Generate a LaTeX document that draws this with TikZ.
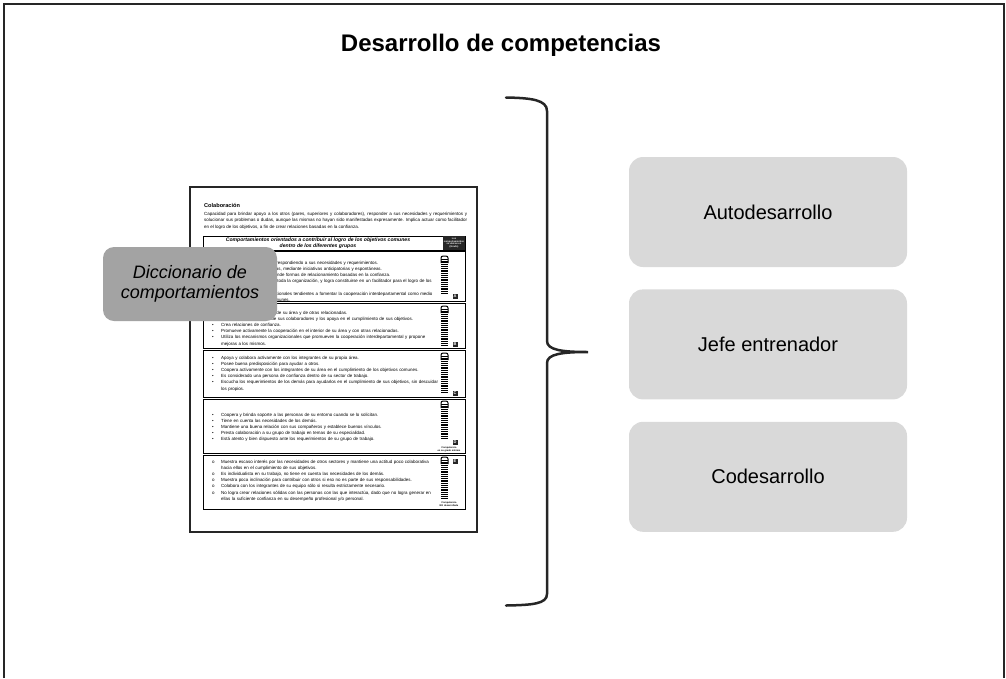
\documentclass[tikz,border=0pt]{standalone}
\usepackage{fontspec}
\setmainfont{Liberation Sans}
\usetikzlibrary{positioning}

\newcommand{\pgitem}[2][\textbullet]{\par\leftskip=9pt\hyphenpenalty=10000\exhyphenpenalty=10000\noindent\llap{\hbox to 9pt{#1\hfil}}#2}
\newcommand{\gradebar}[2]{%
  \draw[line width=1pt, rounded corners=2pt] (441,{#1+7}) -- (441,#1) -- (448,#1) -- (448,{#1+7});
  \foreach \i in {0,...,#2} \draw[line width=0.5pt] (441,{#1+3+1.8*\i}) -- (448,{#1+3+1.8*\i});
}

\begin{document}
\begin{tikzpicture}[x=1pt, y=-1pt,
    node distance=22pt,
    phase/.style = {rectangle, rounded corners=14pt, fill=black!15, minimum width=278pt, minimum height=110pt, font=\fontsize{20}{24}\selectfont},
    dict/.style = {rectangle, rounded corners=11pt, fill=black!36, minimum width=174pt, minimum height=74pt, align=center, font=\fontsize{18}{20}\selectfont\itshape},
    pagetext/.style = {inner sep=0pt, anchor=north west, align=left, text width=226pt, font=\fontsize{4.45}{6.15}\selectfont},
    section/.style = {draw, line width=0.9pt},
    grade/.style = {fill=black!85, text=white, inner sep=0pt, minimum size=5pt, font=\fontsize{4}{4}\selectfont\bfseries},
    caption/.style = {inner sep=0pt, align=center, font=\fontsize{2.4}{2.9}\selectfont\bfseries}]

    \useasboundingbox (0,0) rectangle (1006,678);
    \draw[line width=1.5pt, black!85] (4,678) -- (4,4) -- (1004,4) -- (1004,678);

    \node[font=\fontsize{24}{28}\selectfont\bfseries] (title) at (501,45) {Desarrollo de competencias};

    % document page
    \draw[line width=1.8pt, black!85, fill=white] (190,187) rectangle (477,532);
    \node[anchor=west, inner sep=0pt, font=\fontsize{5.6}{6}\selectfont\bfseries] (colab) at (204,205) {Colaboración};
    \node[pagetext, text width=263pt, align=justify, font=\fontsize{4.5}{6.4}\selectfont] (intro) at (204,212) {\hyphenpenalty=10000 Capacidad para brindar apoyo a los otros (pares, superiores y colaboradores), responder a sus necesidades y requerimientos y solucionar sus problemas o dudas, aunque las mismas no hayan sido manifestadas expresamente. Implica actuar como facilitador en el logro de los objetivos, a fin de crear relaciones basadas en la confianza.\par};

    \draw[section] (203,236) rectangle (465,250);
    \fill[black!85] (443,236) rectangle (465,250);
    \node[align=center, inner sep=0pt, font=\fontsize{5.1}{6}\selectfont\bfseries\itshape] (header) at (318,243) {Comportamientos orientados a contribuir al logro de los objetivos comunes\\dentro de los diferentes grupos};
    \node[align=center, inner sep=0pt, text=white, font=\fontsize{2.4}{2.8}\selectfont\bfseries] (hdrgrade) at (454,243) {Los\\comportamientos\\se ubican en\\(Grado)};

    \draw[section] (203,251) rectangle (465,301);
    \draw[section] (203,303) rectangle (465,348);
    \draw[section] (203,350) rectangle (465,397);
    \draw[section] (203,399) rectangle (465,453);
    \draw[section] (203,455) rectangle (465,509);

    \node[pagetext] (itemsA) at (212,258) {%
      \pgitem{Brinda apoyo a los demás, respondiendo a sus necesidades y requerimientos.}
      \pgitem{Soluciona problemas o dudas, mediante iniciativas anticipatorias y espontáneas.}
      \pgitem{Apoya a las personas y difunde formas de relacionamiento basadas en la confianza.}
      \pgitem{Fomenta la cooperación en toda la organización, y logra constituirse en un facilitador para el logro de los objetivos.}
      \pgitem{Crea mecanismos organizacionales tendientes a fomentar la cooperación interdepartamental como medio para lograr los objetivos comunes.}\par};
    \node[pagetext] (itemsB) at (212,308) {%
      \pgitem{Colabora con las personas de su área y de otras relacionadas.}
      \pgitem{Atiende las necesidades de sus colaboradores y los apoya en el cumplimiento de sus objetivos.}
      \pgitem{Crea relaciones de confianza.}
      \pgitem{Promueve activamente la cooperación en el interior de su área y con otras relacionadas.}
      \pgitem{Utiliza los mecanismos organizacionales que promueven la cooperación interdepartamental y propone mejoras a los mismos.}\par};
    \node[pagetext] (itemsC) at (212,353) {%
      \pgitem{Apoya y colabora activamente con los integrantes de su propia área.}
      \pgitem{Posee buena predisposición para ayudar a otros.}
      \pgitem{Coopera activamente con los integrantes de su área en el cumplimiento de los objetivos comunes.}
      \pgitem{Es considerado una persona de confianza dentro de su sector de trabajo.}
      \pgitem{Escucha los requerimientos de los demás para ayudarlos en el cumplimiento de sus objetivos, sin descuidar los propios.}\par};
    \node[pagetext] (itemsD) at (212,410) {%
      \pgitem{Coopera y brinda soporte a las personas de su entorno cuando se lo solicitan.}
      \pgitem{Tiene en cuenta las necesidades de los demás.}
      \pgitem{Mantiene una buena relación con sus compañeros y establece buenos vínculos.}
      \pgitem{Presta colaboración a su grupo de trabajo en temas de su especialidad.}
      \pgitem{Está atento y bien dispuesto ante los requerimientos de su grupo de trabajo.}\par};
    \node[pagetext] (itemsE) at (212,457) {%
      \pgitem[o]{Muestra escaso interés por las necesidades de otros sectores y mantiene una actitud poco colaborativa hacia ellos en el cumplimiento de sus objetivos.}
      \pgitem[o]{Es individualista en su trabajo, no tiene en cuenta las necesidades de los demás.}
      \pgitem[o]{Muestra poca inclinación para contribuir con otros si eso no es parte de sus responsabilidades.}
      \pgitem[o]{Colabora con los integrantes de su equipo sólo si resulta estrictamente necesario.}
      \pgitem[o]{No logra crear relaciones sólidas con las personas con las que interactúa, dado que no logra generar en ellas la suficiente confianza en su desempeño profesional y/o personal.}\par};

    \gradebar{256}{19}
    \gradebar{306}{20}
    \gradebar{353}{20}
    \gradebar{401}{19}
    \gradebar{457}{21}
    \node[grade] (gradeA) at (455,296) {A};
    \node[grade] (gradeB) at (455,344) {B};
    \node[grade] (gradeC) at (455,393) {C};
    \node[grade] (gradeD) at (455,442) {D};
    \node[grade] (gradeE) at (455,461) {E};
    \node[caption] (capD) at (449,449) {Competencia\\en su grado mínimo};
    \node[caption] (capE) at (449,504) {Competencia\\NO desarrollada};

    \node[dict] (dicc) at (190,284) {Diccionario de\\comportamientos};

    % brace
    \draw[line width=2.5pt, black!85, line cap=round]
      (506,97.5) .. controls (532,98) and (547,100) .. (547,111) -- (547,341)
      .. controls (547,350) and (562,352) .. (588,352)
      .. controls (562,352) and (547,354) .. (547,363) -- (547,594)
      .. controls (547,604) and (532,605) .. (506,605.5);

    \node[phase] (auto) at (768,212) {Autodesarrollo};
    \node[phase, below=of auto] (jefe) {Jefe entrenador};
    \node[phase, below=of jefe] (codes) {Codesarrollo};
\end{tikzpicture}
\end{document}
